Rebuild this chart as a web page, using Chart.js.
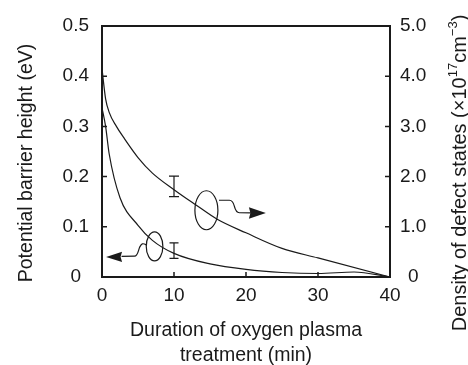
<!DOCTYPE html>
<html>
<head>
<meta charset="utf-8">
<script src="https://cdn.jsdelivr.net/npm/chart.js@4/dist/chart.umd.min.js"></script>
<style>
  html, body { margin: 0; padding: 0; background: #fff; }
  #wrap { width: 468px; height: 365px; }
</style>
</head>
<body>
<div id="wrap"><canvas id="chart" width="468" height="365"></canvas></div>
<script>
// Duration of oxygen plasma treatment (min)
const barrierTime = [0, 0.5, 1, 2.5, 5, 7, 10, 15, 20, 25, 30, 35, 40];
// Potential barrier height (eV)
const barrierHeight = [0.337, 0.30, 0.245, 0.158, 0.103, 0.073, 0.047, 0.026, 0.015, 0.009, 0.007, 0.010, 0];

const defectTime = [0, 0.5, 1, 2, 3, 5, 7, 10, 13, 16, 20, 25, 30, 40];
// Density of defect states (x10^17 cm^-3)
const defectDensity = [4.15, 3.55, 3.28, 3.0, 2.78, 2.38, 2.07, 1.74, 1.44, 1.15, 0.88, 0.57, 0.38, 0];

// error bars at 10 min
const errTime = 10;
const barrierErr = [0.037, 0.068];
const defectErr = [1.6, 2.01];

const xTicks = [0, 10, 20, 30, 40];
const leftTicks = [0, 0.1, 0.2, 0.3, 0.4, 0.5];
const rightTicks = [0, 1, 2, 3, 4, 5];

const ink = '#1a1a1a';
const family = "'Liberation Sans', Arial, sans-serif";

function pairs(xs, ys) {
    return xs.map((x, i) => ({ x, y: ys[i] }));
}

// inward ticks, frame, error bars, ellipses with arrows, y titles
const decorations = {
    id: 'decorations',
    afterDatasetsDraw(chart) {
        const { ctx, chartArea: a, scales } = chart;
        const { x, y, y2 } = scales;
        ctx.save();
        ctx.strokeStyle = ink;
        ctx.fillStyle = ink;

        // error bars
        ctx.lineWidth = 1.2;
        const bar = (scale, lo, hi, half) => {
            const px = x.getPixelForValue(errTime);
            const p1 = scale.getPixelForValue(lo);
            const p2 = scale.getPixelForValue(hi);
            ctx.beginPath();
            ctx.moveTo(px, p1); ctx.lineTo(px, p2);
            ctx.moveTo(px - half, p1); ctx.lineTo(px + half, p1);
            ctx.moveTo(px - half, p2); ctx.lineTo(px + half, p2);
            ctx.stroke();
        };
        bar(y2, defectErr[0], defectErr[1], 5);
        bar(y, barrierErr[0], barrierErr[1], 4.5);

        // ellipse around the density curve, arrow to the right axis
        let cx = x.getPixelForValue(14.5);
        let cy = y2.getPixelForValue(1.33);
        ctx.beginPath();
        ctx.ellipse(cx, cy, 11.5, 19.5, 0, 0, Math.PI * 2);
        ctx.stroke();
        ctx.beginPath();
        ctx.moveTo(cx + 12.6, cy - 10);
        ctx.lineTo(cx + 23, cy - 10);
        ctx.bezierCurveTo(cx + 30, cy - 10, cx + 26, cy + 2, cx + 33, cy + 2.5);
        ctx.lineTo(cx + 45, cy + 2.7);
        ctx.stroke();
        ctx.beginPath();
        ctx.moveTo(cx + 59.5, cy + 2.7);
        ctx.lineTo(cx + 42.5, cy - 3);
        ctx.lineTo(cx + 44, cy + 2.7);
        ctx.lineTo(cx + 42.5, cy + 8.4);
        ctx.closePath();
        ctx.fill();

        // ellipse around the barrier curve, arrow to the left axis
        cx = x.getPixelForValue(7.3);
        cy = y.getPixelForValue(0.061);
        ctx.beginPath();
        ctx.ellipse(cx, cy, 8.3, 14.5, 0, 0, Math.PI * 2);
        ctx.stroke();
        ctx.beginPath();
        ctx.moveTo(cx - 8.3, cy - 1.5);
        ctx.bezierCurveTo(cx - 12, cy - 3.5, cx - 13, cy - 3, cx - 15, cy + 1);
        ctx.bezierCurveTo(cx - 16.5, cy + 5, cx - 17, cy + 9.8, cx - 20, cy + 9.8);
        ctx.lineTo(cx - 33, cy + 10);
        ctx.stroke();
        ctx.beginPath();
        ctx.moveTo(cx - 48.5, cy + 10.5);
        ctx.lineTo(cx - 32.5, cy + 5.3);
        ctx.lineTo(cx - 34, cy + 10.3);
        ctx.lineTo(cx - 32.5, cy + 15.5);
        ctx.closePath();
        ctx.fill();

        // inward tick marks
        ctx.lineWidth = 1.5;
        ctx.beginPath();
        y.ticks.forEach((t) => {
            if (t.value <= y.min || t.value >= y.max) return;
            const p = y.getPixelForValue(t.value);
            ctx.moveTo(a.left, p); ctx.lineTo(a.left + 5, p);
        });
        y2.ticks.forEach((t) => {
            if (t.value <= y2.min || t.value >= y2.max) return;
            const p = y2.getPixelForValue(t.value);
            ctx.moveTo(a.right, p); ctx.lineTo(a.right - 5, p);
        });
        x.ticks.forEach((t) => {
            if (t.value <= x.min || t.value >= x.max) return;
            const p = x.getPixelForValue(t.value);
            ctx.moveTo(p, a.bottom); ctx.lineTo(p, a.bottom - 5);
        });
        ctx.stroke();

        // frame
        ctx.lineWidth = 2;
        ctx.strokeRect(a.left, a.top, a.right - a.left, a.bottom - a.top);
        ctx.restore();
    },
    afterDraw(chart) {
        const { ctx } = chart;
        ctx.save();
        ctx.fillStyle = ink;
        ctx.textBaseline = 'middle';

        // left title
        ctx.translate(27, 163);
        ctx.rotate(-Math.PI / 2);
        ctx.textAlign = 'center';
        ctx.font = `19.5px ${family}`;
        ctx.fillText('Potential barrier height (eV)', 0, 0);
        ctx.restore();

        // right title, reads upward, with superscripts
        ctx.save();
        ctx.fillStyle = ink;
        ctx.textBaseline = 'middle';
        ctx.textAlign = 'left';
        ctx.translate(460, 173);
        ctx.rotate(-Math.PI / 2);
        const parts = [
            { t: 'Density of defect states (\u00d710', sup: false },
            { t: '17', sup: true },
            { t: 'cm', sup: false },
            { t: '\u22123', sup: true },
            { t: ')', sup: false },
        ];
        const fontFor = (p) => (p.sup ? `13px ${family}` : `20px ${family}`);
        let total = 0;
        parts.forEach((p) => { ctx.font = fontFor(p); total += ctx.measureText(p.t).width; });
        let px = -total / 2;
        parts.forEach((p) => {
            ctx.font = fontFor(p);
            ctx.fillText(p.t, px, p.sup ? -6.5 : 0);
            px += ctx.measureText(p.t).width;
        });
        ctx.restore();
    },
};

const ctx = document.getElementById('chart').getContext('2d');
new Chart(ctx, {
    type: 'line',
    data: {
        datasets: [
            {
                label: 'Potential barrier height',
                data: pairs(barrierTime, barrierHeight),
                yAxisID: 'y',
                borderColor: ink,
                borderWidth: 1.2,
                pointRadius: 0,
                cubicInterpolationMode: 'monotone',
                fill: false,
            },
            {
                label: 'Density of defect states',
                data: pairs(defectTime, defectDensity),
                yAxisID: 'y2',
                borderColor: ink,
                borderWidth: 1.2,
                pointRadius: 0,
                cubicInterpolationMode: 'monotone',
                fill: false,
            },
        ],
    },
    options: {
        responsive: false,
        animation: false,
        devicePixelRatio: 1,
        layout: { padding: { top: 26, left: 0, right: 0, bottom: 0 } },
        plugins: { legend: { display: false }, tooltip: { enabled: false } },
        scales: {
            x: {
                type: 'linear',
                min: 0,
                max: 40,
                afterBuildTicks: (s) => { s.ticks = xTicks.map((v) => ({ value: v })); },
                ticks: { color: ink, font: { family, size: 19 }, padding: 7 },
                grid: { display: false, drawTicks: false },
                border: { display: false },
                title: {
                    display: true,
                    text: ['Duration of oxygen plasma', 'treatment (min)'],
                    color: ink,
                    font: { family, size: 19.5, lineHeight: '25px' },
                    padding: { top: 0, bottom: -3.5 },
                },
                afterFit: (s) => { s.height = 88; },
            },
            y: {
                position: 'left',
                min: 0,
                max: 0.5,
                afterBuildTicks: (s) => { s.ticks = leftTicks.map((v) => ({ value: v })); },
                ticks: {
                    color: ink,
                    font: { family, size: 19 },
                    padding: 13,
                    crossAlign: 'center',
                    callback: (v) => (v === 0 ? '0' : v.toFixed(1)),
                },
                grid: { display: false, drawTicks: false },
                border: { display: false },
                afterFit: (s) => { s.width = 102; },
            },
            y2: {
                position: 'right',
                min: 0,
                max: 5,
                afterBuildTicks: (s) => { s.ticks = rightTicks.map((v) => ({ value: v })); },
                ticks: {
                    color: ink,
                    font: { family, size: 19 },
                    padding: 10,
                    crossAlign: 'center',
                    callback: (v) => (v === 0 ? '0' : v.toFixed(1)),
                },
                grid: { display: false, drawTicks: false },
                border: { display: false },
                afterFit: (s) => { s.width = 78; },
            },
        },
    },
    plugins: [decorations],
});
</script>
</body>
</html>
